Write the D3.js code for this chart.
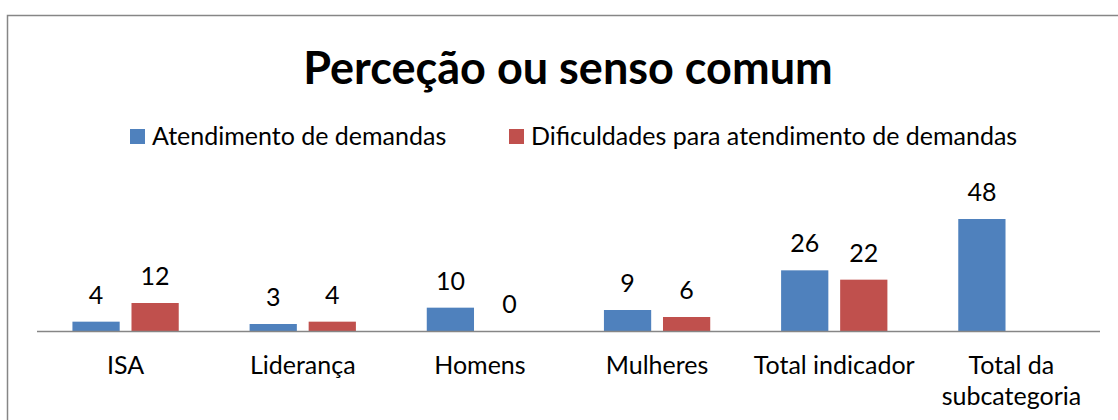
<!DOCTYPE html>
<meta charset="utf-8">
<title>Perceção ou senso comum</title>
<head>
<style>
body { margin: 0; background: #fff; }
#chart text { font-family: Lato, "Open Sans", sans-serif; fill: #000; }
.bar-label { font-size: 25px; }
.cat-label { font-size: 25px; }
.legend text { font-size: 25px; }
.title { font-size: 45px; font-weight: bold; }
</style>
</head>
<body>
<div id="chart"></div>
<script src="https://cdn.jsdelivr.net/npm/d3@7"></script>
<script>
// data
var categories = ["ISA", "Liderança", "Homens", "Mulheres", "Total indicador", "Total da subcategoria"];
var seriesNames = ["Atendimento de demandas", "Dificuldades para atendimento de demandas"];
var atendimento = [4, 3, 10, 9, 26, 48];
var dificuldades = [12, 4, 0, 6, 22, null];
var colors = ["#4f81bd", "#c0504d"];

var width = 1118, height = 420;

var svg = d3.select("#chart").append("svg")
    .attr("width", width)
    .attr("height", height);

// outer frame
svg.append("rect")
    .attr("x", 7.5).attr("y", 15.5)
    .attr("width", 1116).attr("height", 420)
    .style("fill", "none")
    .style("stroke", "#868686")
    .style("stroke-width", 1.5);

svg.append("text")
    .attr("class", "title")
    .attr("x", 568).attr("y", 84)
    .attr("text-anchor", "middle")
    .text("Perceção ou senso comum");

// legend
var legendX = [130, 509];
var legend = svg.append("g").attr("class", "legend")
  .selectAll("g")
    .data(seriesNames)
  .enter().append("g")
    .attr("transform", function(d, i) { return "translate(" + legendX[i] + ",129)"; });
legend.append("rect")
    .attr("width", 15).attr("height", 15)
    .style("fill", function(d, i) { return colors[i]; });
legend.append("text")
    .attr("x", 22).attr("y", 16)
    .text(function(d) { return d; });

var x0 = d3.scaleBand()
    .domain(categories)
    .range([37, 1100])
    .paddingInner(0.4)
    .paddingOuter(0.2);

var x1 = d3.scaleBand()
    .domain([0, 1])
    .range([0, x0.bandwidth()])
    .paddingInner(0.2);

var y = d3.scaleLinear()
    .domain([0, 60])
    .range([331, 191]);

var rows = categories.map(function(c, i) {
  return { cat: c, values: [atendimento[i], dificuldades[i]] };
});

var group = svg.append("g").selectAll(".cat")
    .data(rows)
  .enter().append("g")
    .attr("class", "cat")
    .attr("transform", function(d) { return "translate(" + x0(d.cat) + ",0)"; });

var cells = group.selectAll(".cell")
    .data(function(d) {
      return d.values.map(function(v, i) { return { s: i, v: v }; })
        .filter(function(e) { return e.v != null; });
    })
  .enter().append("g").attr("class", "cell");

cells.append("rect")
    .attr("x", function(d) { return x1(d.s); })
    .attr("y", function(d) { return y(d.v); })
    .attr("width", x1.bandwidth())
    .attr("height", function(d) { return y(0) - y(d.v); })
    .style("fill", function(d) { return colors[d.s]; });

cells.append("text")
    .attr("class", "bar-label")
    .attr("x", function(d) { return x1(d.s) + x1.bandwidth() / 2; })
    .attr("y", function(d) { return y(d.v) - 18; })
    .attr("text-anchor", "middle")
    .text(function(d) { return d.v; });

// category axis
svg.append("line")
    .attr("x1", 37).attr("x2", 1100)
    .attr("y1", y(0) + 0.5).attr("y2", y(0) + 0.5)
    .style("stroke", "#868686")
    .style("stroke-width", 1.5);

var catLabel = svg.append("g").selectAll(".cat-label")
    .data(categories)
  .enter().append("text")
    .attr("class", "cat-label")
    .attr("x", function(d) { return x0(d) + x0.bandwidth() / 2; })
    .attr("y", 374)
    .attr("text-anchor", "middle");

// Excel wraps the long label onto two lines
catLabel.each(function(d) {
  var lines = d === "Total da subcategoria" ? ["Total da", "subcategoria"] : [d];
  d3.select(this).selectAll("tspan")
      .data(lines)
    .enter().append("tspan")
      .attr("x", d3.select(this).attr("x"))
      .attr("dy", function(l, i) { return i ? 31 : 0; })
      .text(function(l) { return l; });
});
</script>
</body>
</html>
